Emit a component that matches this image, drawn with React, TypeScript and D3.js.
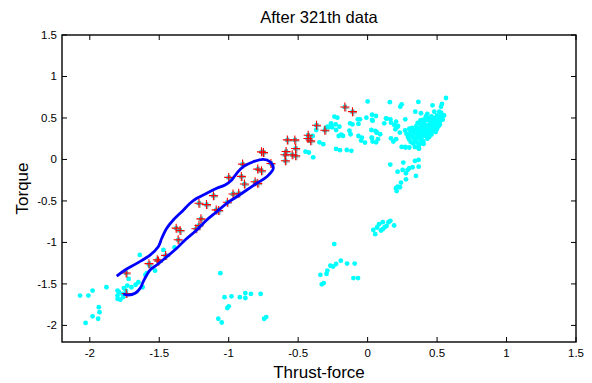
import React from "react";
import * as d3 from "d3";

const W = 592, H = 383;
const M = { left: 62, right: 16, top: 35, bottom: 41 };

const xDomain: [number, number] = [-2.2, 1.5];
const yDomain: [number, number] = [-2.2, 1.5];
const xTicks = [-2, -1.5, -1, -0.5, 0, 0.5, 1, 1.5];
const yTicks = [-2, -1.5, -1, -0.5, 0, 0.5, 1, 1.5];

const title = "After 321th data";
const xLabel = "Thrust-force";
const yLabel = "Torque";

// cyan data points (spread)
const cyanPoints: [number, number][] = [
  [-2.07, -1.64], [-2.01, -1.64], [-1.98, -1.58], [-2.03, -1.97], [-1.98, -1.89], [-1.94, -1.92],
  [-1.935, -1.78], [-1.93, -1.84], [-1.88, -1.54], [-1.80, -1.58], [-1.80, -1.64], [-1.80, -1.68],
  [-1.78, -1.69], [-1.765, -1.62], [-1.755, -1.55], [-1.73, -1.52], [-1.72, -1.44], [-1.70, -1.54],
  [-1.67, -1.51], [-1.65, -1.48], [-1.62, -1.54], [-1.64, -1.15], [-1.60, -1.39], [-1.59, -1.37],
  [-1.57, -1.28], [-1.53, -1.34], [-1.51, -1.22], [-1.47, -1.09], [-1.39, -1.06], [-1.79, -1.60],
  [-1.76, -1.66], [-1.74, -1.58],
  [-1.06, -1.37], [-1.03, -1.66], [-0.98, -1.65], [-1.0, -1.77], [-1.01, -1.79], [-0.92, -1.66],
  [-0.88, -1.61], [-0.88, -1.67], [-0.84, -1.62], [-0.77, -1.62], [-1.075, -1.92], [-1.05, -1.965],
  [-0.745, -1.92], [-0.73, -1.90],
  [-0.24, -1.02], [-0.34, -1.39], [-0.316, -1.49], [-0.33, -1.505], [-0.296, -1.38], [-0.29, -1.34],
  [-0.268, -1.28], [-0.248, -1.29], [-0.227, -1.26], [-0.193, -1.22], [-0.148, -1.255], [-0.093, -1.255],
  [-0.102, -1.43], [-0.069, -1.43],
  [0.041, -0.85], [0.055, -0.90], [0.068, -0.82], [0.082, -0.78], [0.109, -0.756], [0.096, -0.856],
  [0.123, -0.816], [0.15, -0.756], [0.164, -0.74], [0.191, -0.796], [0.109, -0.84], [0.137, -0.80],
  [0.163, -0.062], [0.257, -0.038], [0.341, -0.018], [0.367, -0.006], [0.367, -0.087], [0.216, -0.147],
  [0.252, -0.126], [0.276, -0.166], [0.30, -0.106], [0.324, -0.094], [0.348, -0.199], [0.276, -0.239],
  [0.24, -0.279], [0.216, -0.328], [0.204, -0.347], [0.209, -0.38], [0.233, -0.335], [0.288, -0.126],
  [0.564, 0.741], [0.535, 0.669], [0.528, 0.636], [0.467, 0.653], [0.365, 0.693], [0.245, 0.665],
  [0.235, 0.636], [0.16, 0.69], [0.032, 0.54], [0.032, 0.476], [0.137, 0.492], [0.12, 0.436],
  [0.168, 0.443], [0.192, 0.416], [0.216, 0.395], [0.20, 0.364], [0.027, 0.355], [0.065, 0.328],
  [0.032, 0.259], [0.061, 0.207], [0.168, 0.255], [0.185, 0.215], [0.271, 0.484], [0.343, 0.576],
  [0.384, 0.557], [0.245, 0.151], [0.271, 0.151], [0.367, 0.135], [0.403, 0.187], [0.444, 0.275],
  [0.511, 0.416], [0.516, 0.576], [0.528, 0.536], [0.48, 0.576],
  [0.0, 0.70], [-0.239, 0.516], [-0.263, 0.436], [-0.28, 0.388], [-0.256, 0.388], [-0.203, 0.395],
  [-0.227, 0.355], [-0.208, 0.283], [-0.19, 0.30], [-0.126, 0.436], [-0.071, 0.484], [-0.066, 0.428],
  [-0.009, 0.504], [0.036, 0.467], [-0.131, 0.347], [-0.066, 0.283], [-0.047, 0.227], [0.065, 0.323],
  [0.029, 0.263], [0.036, 0.215], [0.132, 0.496], [-0.347, 0.207], [-0.227, 0.127], [-0.15, 0.114],
  [-0.447, 0.094], [-0.392, 0.026], [-0.37, 0.355], [-0.395, 0.283], [-0.287, 0.395], [-0.319, 0.184],
  [-0.423, 0.084], [-0.30, 0.384], [-0.23, 0.424], [-0.218, 0.504], [-0.177, 0.284], [-0.123, 0.304],
  [-0.109, 0.424], [-0.199, 0.112], [-0.117, 0.104], [-0.055, 0.484], [-0.041, 0.264], [-0.019, 0.204],
  [0.06, 0.524], [0.055, 0.344], [0.074, 0.244], [0.09, 0.304], [0.164, 0.484], [0.205, 0.456],
  [0.219, 0.404], [0.205, 0.244], [0.232, 0.324], [0.273, 0.144], [0.30, 0.144],
];

// dense cluster at upper right
const clusterPoints: [number, number][] = [
  [0.30, 0.30], [0.32, 0.28], [0.33, 0.33], [0.35, 0.30], [0.36, 0.35], [0.38, 0.32], [0.37, 0.28],
  [0.40, 0.34], [0.41, 0.38], [0.39, 0.40], [0.42, 0.36], [0.43, 0.41], [0.44, 0.38], [0.45, 0.43],
  [0.46, 0.40], [0.47, 0.45], [0.48, 0.42], [0.49, 0.47], [0.50, 0.44], [0.51, 0.49], [0.52, 0.46],
  [0.53, 0.51], [0.35, 0.25], [0.34, 0.22], [0.36, 0.20], [0.38, 0.24], [0.39, 0.27], [0.40, 0.29],
  [0.41, 0.31], [0.42, 0.28], [0.43, 0.33], [0.44, 0.30], [0.45, 0.35], [0.46, 0.33], [0.47, 0.37],
  [0.48, 0.35], [0.49, 0.39], [0.50, 0.37], [0.31, 0.34], [0.32, 0.38], [0.34, 0.36], [0.35, 0.40],
  [0.37, 0.38], [0.38, 0.43], [0.40, 0.45], [0.42, 0.47], [0.44, 0.50], [0.46, 0.52], [0.48, 0.50],
  [0.50, 0.53], [0.28, 0.31], [0.29, 0.27], [0.30, 0.24], [0.33, 0.19], [0.37, 0.17], [0.40, 0.22],
  [0.43, 0.25], [0.39, 0.36], [0.36, 0.31], [0.33, 0.26], [0.41, 0.42], [0.45, 0.46], [0.47, 0.48],
  [0.52, 0.42], [0.54, 0.48], [0.55, 0.53], [0.53, 0.56], [0.42, 0.52], [0.38, 0.47], [0.36, 0.44],
  [0.30, 0.37], [0.27, 0.35], [0.31, 0.21], [0.34, 0.15], [0.37, 0.13], [0.39, 0.20], [0.44, 0.27],
  [0.46, 0.30], [0.49, 0.33], [0.51, 0.40], [0.40, 0.48], [0.43, 0.55],
];

// red plus markers (selected data)
const plusPoints: [number, number][] = [
  [-0.164, 0.632], [-0.109, 0.576], [-0.368, 0.412], [-0.308, 0.352], [-0.428, 0.292], [-0.43, 0.252],
  [-0.41, 0.224], [-0.578, 0.236], [-0.524, 0.236], [-0.518, 0.132], [-0.587, 0.096], [-0.595, 0.056],
  [-0.543, 0.056], [-0.518, 0.044], [-0.592, -0.016], [-0.764, 0.092], [-0.75, 0.084], [-0.90, -0.056],
  [-0.696, -0.048], [-0.791, -0.116], [-0.764, -0.136], [-1.0, -0.216], [-0.909, -0.204], [-0.81, -0.268],
  [-0.791, -0.288], [-0.887, -0.296], [-0.969, -0.416], [-0.928, -0.408], [-1.11, -0.436], [-1.01, -0.516],
  [-1.214, -0.528], [-1.16, -0.544], [-1.09, -0.608], [-1.072, -0.616], [-1.2, -0.716], [-1.214, -0.796],
  [-1.236, -0.836], [-1.378, -0.828], [-1.35, -0.856], [-1.364, -0.968], [-1.454, -1.156], [-1.514, -1.208],
  [-1.506, -1.224], [-1.574, -1.256], [-1.738, -1.368], [-1.738, -1.616],
];

// blue boundary curve
const boundary: [number, number][] = [
  [-1.806, -1.405], [-1.746, -1.332], [-1.662, -1.252], [-1.566, -1.152], [-1.507, -1.052],
  [-1.482, -0.95], [-1.446, -0.83], [-1.399, -0.73], [-1.338, -0.63], [-1.278, -0.528],
  [-1.23, -0.468], [-1.158, -0.408], [-1.086, -0.348], [-1.026, -0.307], [-0.978, -0.247],
  [-0.942, -0.167], [-0.895, -0.087], [-0.823, -0.027], [-0.751, 0.002], [-0.703, -0.027],
  [-0.679, -0.107], [-0.726, -0.208], [-0.798, -0.287], [-0.87, -0.368], [-0.942, -0.449],
  [-1.014, -0.528], [-1.086, -0.63], [-1.158, -0.73], [-1.23, -0.85], [-1.314, -0.971],
  [-1.374, -1.071], [-1.446, -1.172], [-1.518, -1.272], [-1.566, -1.332], [-1.59, -1.393],
  [-1.615, -1.473], [-1.638, -1.553], [-1.674, -1.613], [-1.723, -1.634], [-1.759, -1.622],
];

export default function App() {
  const x = d3.scaleLinear().domain(xDomain).range([M.left, W - M.right]);
  const y = d3.scaleLinear().domain(yDomain).range([H - M.bottom, M.top]);
  const line = d3
    .line<[number, number]>()
    .x((d) => x(d[0]))
    .y((d) => y(d[1]))
    .curve(d3.curveCatmullRom.alpha(0.5));
  const x0 = M.left, x1 = W - M.right, y0 = M.top, y1 = H - M.bottom;
  const font = "'Liberation Sans', Arial, sans-serif";
  const tl = 5;
  const fmt = (v: number) => (v === 0 ? "0" : String(v));
  const allCyan = [...cyanPoints, ...clusterPoints, ...plusPoints];
  const ps = 4.5;
  return (
    <svg width={W} height={H} style={{ position: "absolute", left: 0, top: 0, background: "#fff" }}>
      <rect x={0} y={0} width={W} height={H} fill="#fff" />
      {allCyan.map((d, i) => (
        <circle key={"c" + i} cx={x(d[0])} cy={y(d[1])} r={2.4} fill="#00FFFF" />
      ))}
      {plusPoints.map((d, i) => {
        const cx = x(d[0]) + 1, cy = y(d[1]) + 1;
        return (
          <path key={"g" + i} d={`M${cx - ps + 1},${cy}H${cx + ps - 1}M${cx},${cy - ps + 1}V${cy + ps - 1}`}
            stroke="#777" strokeWidth={1.6} opacity={0.6} fill="none" />
        );
      })}
      {plusPoints.map((d, i) => {
        const cx = x(d[0]), cy = y(d[1]);
        return (
          <path key={"p" + i} d={`M${cx - ps},${cy}H${cx + ps}M${cx},${cy - ps}V${cy + ps}`}
            stroke="#FF0000" strokeWidth={1.1} fill="none" />
        );
      })}
      <path d={line(boundary) || ""} fill="none" stroke="#0000FF" strokeWidth={2.8} strokeLinejoin="round" strokeLinecap="butt" />
      <rect x={x0} y={y0} width={x1 - x0} height={y1 - y0} fill="none" stroke="#000" strokeWidth={1.4} />
      {xTicks.map((t) => (
        <g key={"xt" + t}>
          <line x1={x(t)} x2={x(t)} y1={y1} y2={y1 - tl} stroke="#000" strokeWidth={1} />
          <line x1={x(t)} x2={x(t)} y1={y0} y2={y0 + tl} stroke="#000" strokeWidth={1} />
          <text x={x(t)} y={y1 + 15} textAnchor="middle" fontFamily={font} fontSize={11.5} fill="#000">{fmt(t)}</text>
        </g>
      ))}
      {yTicks.map((t) => (
        <g key={"yt" + t}>
          <line x1={x0} x2={x0 + tl} y1={y(t)} y2={y(t)} stroke="#000" strokeWidth={1} />
          <line x1={x1} x2={x1 - tl} y1={y(t)} y2={y(t)} stroke="#000" strokeWidth={1} />
          <text x={x0 - 5} y={y(t) + 4} textAnchor="end" fontFamily={font} fontSize={11.5} fill="#000">{fmt(t)}</text>
        </g>
      ))}
      <text x={(x0 + x1) / 2} y={23} textAnchor="middle" fontFamily={font} fontSize={16.5} fill="#000">{title}</text>
      <text x={(x0 + x1) / 2} y={378} textAnchor="middle" fontFamily={font} fontSize={17} fill="#000">{xLabel}</text>
      <text transform={`translate(28,${(y0 + y1) / 2}) rotate(-90)`} textAnchor="middle" fontFamily={font} fontSize={17} fill="#000">{yLabel}</text>
    </svg>
  );
}
